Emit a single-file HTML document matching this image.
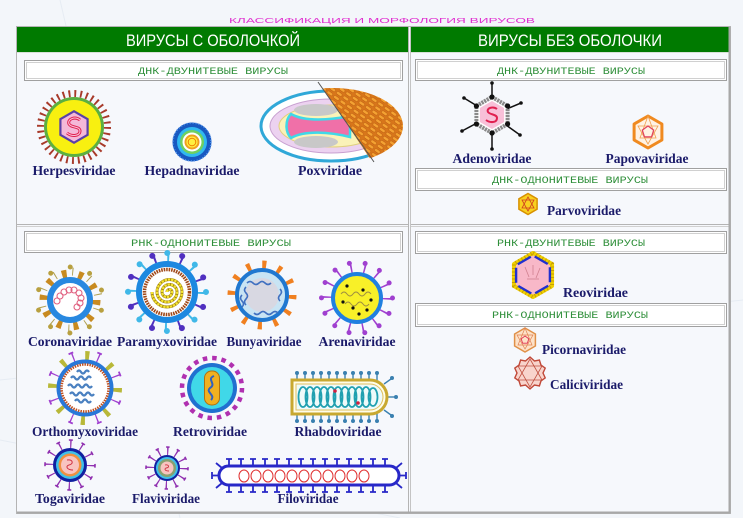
<!DOCTYPE html>
<html><head><meta charset="utf-8"><style>
html,body{margin:0;padding:0;background:#f3f6fa;}
svg{display:block;}
.lbl{font-family:"Liberation Serif",serif;font-weight:bold;font-size:13.5px;fill:#1b1b6a;}
.sub{font-family:"Liberation Mono",monospace;font-size:10.5px;fill:#2f8f3a;}
.hdr{font-family:"Liberation Sans",sans-serif;font-size:16.5px;fill:#ffffff;}
</style></head><body>
<svg width="743" height="518" viewBox="0 0 743 518" xmlns="http://www.w3.org/2000/svg">
<defs>
<pattern id="orp" width="8" height="5" patternUnits="userSpaceOnUse" patternTransform="rotate(35)">
<rect width="8" height="5" fill="#d8761a"/>
<rect x="0.5" y="0.8" width="6.5" height="3" rx="1.5" fill="#f4a232" stroke="#b85a10" stroke-width="0.5"/>
</pattern>
<clipPath id="poxc"><polygon points="316,78 412,78 412,172 379,172"/></clipPath>
</defs>
<rect width="743" height="518" fill="#f3f6fa"/>
<g stroke="#e6ecf3" stroke-width="1" fill="none">
<line x1="0" y1="380" x2="743" y2="300"/>
<line x1="0" y1="440" x2="400" y2="518"/>
<line x1="60" y1="0" x2="180" y2="518"/>
</g>
<!-- table -->
<rect x="16.5" y="26.5" width="714" height="487" fill="#f6f8fc" stroke="#b4b4b4"/>
<rect x="17" y="27" width="391" height="25" fill="#007a00"/>
<rect x="411" y="27" width="318" height="25" fill="#007a00"/>
<line x1="17" y1="52.5" x2="408" y2="52.5" stroke="#d8e0d8"/>
<line x1="411" y1="52.5" x2="729" y2="52.5" stroke="#d8e0d8"/>
<line x1="408.5" y1="27" x2="408.5" y2="513" stroke="#b4b4b4"/>
<line x1="410.5" y1="27" x2="410.5" y2="513" stroke="#c4c4c4"/>
<line x1="17" y1="224.5" x2="408" y2="224.5" stroke="#b4b4b4"/>
<line x1="17" y1="226.5" x2="408" y2="226.5" stroke="#d0d0d0"/>
<line x1="411" y1="224.5" x2="729" y2="224.5" stroke="#b4b4b4"/>
<line x1="411" y1="226.5" x2="729" y2="226.5" stroke="#d0d0d0"/>
<line x1="729.5" y1="27" x2="729.5" y2="513" stroke="#a8a8a8" stroke-width="2"/>
<line x1="17" y1="512.5" x2="730" y2="512.5" stroke="#a8a8a8" stroke-width="2"/>

<text x="382" y="23" font-family="Liberation Sans,sans-serif" font-size="7.5" fill="#e030d0" text-anchor="middle" textLength="306" lengthAdjust="spacingAndGlyphs">КЛАССИФИКАЦИЯ  И  МОРФОЛОГИЯ  ВИРУСОВ</text>
<text class="hdr" x="213" y="46" text-anchor="middle" textLength="174" lengthAdjust="spacingAndGlyphs">ВИРУСЫ С ОБОЛОЧКОЙ</text>
<text class="hdr" x="570" y="46" text-anchor="middle" textLength="184" lengthAdjust="spacingAndGlyphs">ВИРУСЫ  БЕЗ ОБОЛОЧКИ</text>

<!-- subheader boxes -->
<g fill="#ffffff" stroke="#a0a0a0">
<rect x="24.5" y="60.5" width="378" height="20"/>
<rect x="415.5" y="59.5" width="311" height="21"/>
<rect x="415.5" y="168.5" width="311" height="22"/>
<rect x="24.5" y="231.5" width="378" height="21"/>
<rect x="415.5" y="231.5" width="311" height="22"/>
<rect x="415.5" y="303.5" width="311" height="23"/>
</g>
<g fill="none" stroke="#d0d0d0">
<rect x="26.5" y="62.5" width="374" height="16"/>
<rect x="417.5" y="61.5" width="307" height="17"/>
<rect x="417.5" y="170.5" width="307" height="18"/>
<rect x="26.5" y="233.5" width="374" height="17"/>
<rect x="417.5" y="233.5" width="307" height="18"/>
<rect x="417.5" y="305.5" width="307" height="19"/>
</g>
<text class="sub" x="213" y="74" text-anchor="middle" textLength="150" lengthAdjust="spacingAndGlyphs">ДНК-ДВУНИТЕВЫЕ ВИРУСЫ</text>
<text class="sub" x="571" y="74" text-anchor="middle" textLength="148" lengthAdjust="spacingAndGlyphs">ДНК-ДВУНИТЕВЫЕ ВИРУСЫ</text>
<text class="sub" x="570" y="183" text-anchor="middle" textLength="156" lengthAdjust="spacingAndGlyphs">ДНК-ОДНОНИТЕВЫЕ ВИРУСЫ</text>
<text class="sub" x="211" y="246" text-anchor="middle" textLength="160" lengthAdjust="spacingAndGlyphs">РНК-ОДНОНИТЕВЫЕ ВИРУСЫ</text>
<text class="sub" x="571" y="246" text-anchor="middle" textLength="148" lengthAdjust="spacingAndGlyphs">РНК-ДВУНИТЕВЫЕ ВИРУСЫ</text>
<text class="sub" x="570" y="318" text-anchor="middle" textLength="156" lengthAdjust="spacingAndGlyphs">РНК-ОДНОНИТЕВЫЕ ВИРУСЫ</text>

<!-- Herpes -->
<g transform="translate(74,127)">
<circle r="33.5" fill="none" stroke="#a83a2a" stroke-width="7" stroke-dasharray="1.9 3.95"/>
<circle r="30" fill="#5cb040"/>
<circle r="27" fill="#f8f010"/>
<polygon points="0,-17 14.7,-8.5 14.7,8.5 0,17 -14.7,8.5 -14.7,-8.5" fill="#5a40a8"/>
<polygon points="0,-14.5 12.5,-7.2 12.5,7.2 0,14.5 -12.5,7.2 -12.5,-7.2" fill="#f4b8d8"/>
<path d="M6,-7 C1,-11 -7,-8 -5,-3 C-3,1 6,-1 6,4 C6,9 -2,10 -7,6" fill="none" stroke="#e02050" stroke-width="3"/>
<path d="M6,-7 C1,-11 -7,-8 -5,-3 C-3,1 6,-1 6,4 C6,9 -2,10 -7,6" fill="none" stroke="#f8c0d8" stroke-width="1"/>
</g>
<!-- Hepadna -->
<g transform="translate(192,142)">
<circle r="19.5" fill="#1858c0"/>
<circle r="19" fill="none" stroke="#5a9af0" stroke-width="1.5" stroke-dasharray="1 2"/>
<circle r="15" fill="#30b8f0"/>
<circle r="12" fill="#70d060"/>
<circle r="9.5" fill="#ffffff"/>
<circle r="7.5" fill="#f0a020"/>
<circle r="5.5" fill="#fff040"/>
<circle r="3.8" fill="none" stroke="#f08000"/>
</g>
<!-- Pox -->
<g>
<ellipse cx="331" cy="126" rx="70" ry="35" fill="#ffffff" stroke="#30a8d8" stroke-width="3"/>
<ellipse cx="331" cy="126" rx="61" ry="27" fill="#ecd2f0" stroke="#c8a0d0"/>
<ellipse cx="331" cy="126" rx="52" ry="21" fill="#faf2b8" stroke="#e0d080"/>
<ellipse cx="316" cy="110" rx="22" ry="6" fill="#c8c8c8"/>
<ellipse cx="316" cy="142" rx="22" ry="6" fill="#c8c8c8"/>
<path d="M291,114 C305,122 330,120 350,116 L350,137 C330,132 305,130 291,138 C285,132 285,120 291,114 Z" fill="#f070a8" stroke="#40d8e8" stroke-width="2.5"/>
<ellipse cx="333" cy="126" rx="70" ry="38" fill="url(#orp)" clip-path="url(#poxc)"/>
<line x1="318" y1="82" x2="374" y2="162" stroke="#555" stroke-width="1"/>
</g>

<!-- Adeno -->
<g transform="translate(492,115)">
<g stroke="#111" stroke-width="1.5">
<line x1="0" y1="0" x2="0" y2="-32"/><line x1="0" y1="0" x2="0" y2="34"/>
<line x1="0" y1="0" x2="-28" y2="-17"/><line x1="0" y1="0" x2="29" y2="-12"/>
<line x1="0" y1="0" x2="-30" y2="16"/><line x1="0" y1="0" x2="28" y2="20"/>
</g>
<g fill="#111"><circle cx="0" cy="-32" r="1.8"/><circle cx="0" cy="34" r="1.8"/><circle cx="-28" cy="-17" r="1.8"/><circle cx="29" cy="-12" r="1.8"/><circle cx="-30" cy="16" r="1.8"/><circle cx="28" cy="20" r="1.8"/></g>
<polygon points="0,-18 15.6,-9 15.6,9 0,18 -15.6,9 -15.6,-9" fill="#ffffff" stroke="#8a8a8a" stroke-width="4" stroke-dasharray="2.2 0.8"/>
<polygon points="0,-14 12.1,-7 12.1,7 0,14 -12.1,7 -12.1,-7" fill="#f8c0d8"/>
<path d="M5,-6 C1,-9 -6,-7 -4,-3 C-2,0 5,-1 5,3 C5,8 -2,8 -6,5" fill="none" stroke="#e02050" stroke-width="2"/>
<g fill="#111"><circle cx="0" cy="-18" r="2.6"/><circle cx="0" cy="18" r="2.6"/><circle cx="-15.6" cy="-9" r="2.6"/><circle cx="15.6" cy="-9" r="2.6"/><circle cx="-15.6" cy="9" r="2.6"/><circle cx="15.6" cy="9" r="2.6"/></g>
</g>
<!-- Papova -->
<g transform="translate(648,132)">
<polygon points="0,-16 13.9,-8 13.9,8 0,16 -13.9,8 -13.9,-8" fill="#fff2e4" stroke="#f08a20" stroke-width="3" stroke-linejoin="round"/>
<g stroke="#f0a050" stroke-width="0.8" fill="none"><polygon points="0,-16 8,6 -8,6"/><polygon points="0,12 -10,-6 10,-6"/></g>
<polygon points="0,-6 5.7,-1.9 3.5,4.9 -3.5,4.9 -5.7,-1.9" fill="none" stroke="#e04060" stroke-width="1.2"/>
</g>
<!-- Parvo -->
<g transform="translate(528,204)">
<polygon points="0,-10.5 9.1,-5.2 9.1,5.2 0,10.5 -9.1,5.2 -9.1,-5.2" fill="#f8d020" stroke="#d89000" stroke-width="1.5"/>
<g stroke="#d04020" stroke-width="0.8" fill="none"><polygon points="0,-7 6,4 -6,4"/><polygon points="0,7 -6,-4 6,-4"/></g>
</g>

<!-- Corona -->
<g transform="translate(70,300)">
<g transform="rotate(18)">
<circle r="28.5" fill="none" stroke="#b0a050" stroke-width="8" stroke-dasharray="1 17.2"/>
<circle r="33" fill="none" stroke="#b8a040" stroke-width="5" stroke-linecap="round" stroke-dasharray="0.01 20.72"/>
</g>
<circle r="25" fill="none" stroke="#c88a20" stroke-width="11" stroke-dasharray="4.5 11.21"/>
<circle r="20" fill="#ffffff" stroke="#2888e0" stroke-width="6"/>
<g fill="none" stroke="#e06080" stroke-width="1.1">
<circle cx="-10" cy="-4" r="3"/><circle cx="-6" cy="-8" r="3"/><circle cx="-1" cy="-10" r="3"/><circle cx="4" cy="-10" r="3"/><circle cx="9" cy="-7" r="3"/><circle cx="11" cy="-2" r="3"/><circle cx="10" cy="3" r="3"/><circle cx="7" cy="7" r="3"/><circle cx="-13" cy="1" r="3"/>
</g>
</g>
<!-- Paramyxo -->
<g transform="translate(167,292)">
<circle r="34.5" fill="none" stroke="#40b8e8" stroke-width="8" stroke-dasharray="2 25.1"/>
<circle r="39" fill="none" stroke="#40b8e8" stroke-width="6" stroke-linecap="round" stroke-dasharray="0.01 30.62"/>
<g transform="rotate(22.5)">
<circle r="34.5" fill="none" stroke="#5030c0" stroke-width="8" stroke-dasharray="2 25.1"/>
<circle r="39" fill="none" stroke="#5030c0" stroke-width="6" stroke-linecap="round" stroke-dasharray="0.01 30.62"/>
</g>
<circle r="28" fill="#ffffff" stroke="#1c88e0" stroke-width="6"/>
<circle r="22.5" fill="none" stroke="#a04818" stroke-width="3.5" stroke-dasharray="1.6 0.9"/>
<path d="M0,0 A2.5,2.5 0 0 1 5,0 A5,5 0 0 1 -5,0 A7.5,7.5 0 0 1 10,0 A10,10 0 0 1 -10,0 A12.5,12.5 0 0 1 15,0 A15,15 0 0 1 -15,0" fill="none" stroke="#a08010" stroke-width="3"/>
<path d="M0,0 A2.5,2.5 0 0 1 5,0 A5,5 0 0 1 -5,0 A7.5,7.5 0 0 1 10,0 A10,10 0 0 1 -10,0 A12.5,12.5 0 0 1 15,0 A15,15 0 0 1 -15,0" fill="none" stroke="#f4e430" stroke-width="2.2" stroke-dasharray="2.4 0.9"/>
</g>
<!-- Bunya -->
<g transform="translate(262,295)">
<circle r="30" fill="none" stroke="#f08020" stroke-width="9" stroke-dasharray="4 11.71"/>
<circle r="25" fill="#c8e4f4" stroke="#2078d0" stroke-width="4"/>
<circle r="17" fill="#d8d8e2"/>
<path d="M-15,-12 q3,-3 6,0 t6,0 t6,0 t6,0" fill="none" stroke="#4070c0" stroke-width="1.6"/>
<path d="M-20,0 q-3,3 0,6 t0,6" fill="none" stroke="#4070c0" stroke-width="1.6"/>
<path d="M-16,-8 q-3,3 0,6 t0,6 t0,6" fill="none" stroke="#4070c0" stroke-width="1.6"/>
<path d="M-8,18 q3,3 6,0 t6,0 t6,0 t6,0" fill="none" stroke="#4070c0" stroke-width="1.6"/>
<path d="M18,-6 q3,3 0,6 t0,6" fill="none" stroke="#4070c0" stroke-width="1.6"/>
</g>
<!-- Arena -->
<g transform="translate(357,298)">
<circle r="30" fill="none" stroke="#a040d0" stroke-width="10" stroke-dasharray="1.6 11.86"/>
<circle r="35.5" fill="none" stroke="#a040d0" stroke-width="5" stroke-linecap="round" stroke-dasharray="0.01 15.92"/>
<circle r="24" fill="#f8f028" stroke="#2080e0" stroke-width="4"/>
<path d="M-16,-4 q3,-4 6,0 t6,0 t6,0 t6,0 t6,0" fill="none" stroke="#a09040" stroke-width="1"/>
<path d="M-12,6 q3,-4 6,0 t6,0 t6,0 t6,0" fill="none" stroke="#a09040" stroke-width="1"/>
<g fill="#111"><circle cx="-10" cy="-12" r="1.6"/><circle cx="6" cy="-8" r="1.6"/><circle cx="-4" cy="10" r="1.6"/><circle cx="10" cy="12" r="1.6"/><circle cx="14" cy="2" r="1.6"/><circle cx="-14" cy="4" r="1.6"/><circle cx="2" cy="16" r="1.6"/></g>
</g>

<!-- Orthomyxo -->
<g transform="translate(85,388)">
<circle r="32" fill="none" stroke="#b8b838" stroke-width="10" stroke-dasharray="4 21.13"/>
<g transform="rotate(22.5)">
<circle r="32" fill="none" stroke="#a040d0" stroke-width="10" stroke-dasharray="1.3 23.83"/>
<circle r="37.5" fill="none" stroke="#a040d0" stroke-width="1.8" stroke-dasharray="5 24.45" stroke-dashoffset="2.5"/>
</g>
<circle r="26.5" fill="#ffffff" stroke="#2878d8" stroke-width="4"/>
<circle r="23.5" fill="none" stroke="#c05020" stroke-width="2.5" stroke-dasharray="1.5 1"/>
<g fill="none" stroke="#4a80c0" stroke-width="2.2">
<path d="M-14,-10 q2,-3 4,0 t4,0 t4,0 t4,0 t4,0"/>
<path d="M-17,-2 q2,-3 4,0 t4,0 t4,0 t4,0 t4,0 t4,0"/>
<path d="M-15,6 q2,-3 4,0 t4,0 t4,0 t4,0 t4,0 t4,0"/>
<path d="M-10,13 q2,-3 4,0 t4,0 t4,0 t4,0"/>
<path d="M-8,-16 q2,-3 4,0 t4,0 t4,0"/>
</g>
</g>
<!-- Retro -->
<g transform="translate(212,388)">
<circle r="30" fill="none" stroke="#b030b0" stroke-width="4.5" stroke-dasharray="4.5 4.92"/>
<circle r="25" fill="#2070d0"/>
<circle r="21" fill="#40d8e8"/>
<rect x="-7.5" y="-17" width="15" height="34" rx="7" fill="#f0b020" stroke="#b07010" stroke-width="1"/>
<path d="M2,-12 C-6,-9 5,-4 -2,0 C-7,4 4,7 -1,12" fill="none" stroke="#3060c0" stroke-width="2"/>
</g>
<!-- Rhabdo -->
<g>
<g stroke="#3a80b0" stroke-width="1.4">
<line x1="297" y1="374" x2="297" y2="380"/><line x1="305" y1="374" x2="305" y2="380"/><line x1="313" y1="374" x2="313" y2="380"/><line x1="321" y1="374" x2="321" y2="380"/><line x1="329" y1="374" x2="329" y2="380"/><line x1="337" y1="374" x2="337" y2="380"/><line x1="345" y1="374" x2="345" y2="380"/><line x1="353" y1="374" x2="353" y2="380"/><line x1="361" y1="374" x2="361" y2="380"/><line x1="369" y1="374" x2="369" y2="380"/><line x1="377" y1="374" x2="377" y2="381"/>
<line x1="297" y1="414" x2="297" y2="420"/><line x1="305" y1="414" x2="305" y2="420"/><line x1="313" y1="414" x2="313" y2="420"/><line x1="321" y1="414" x2="321" y2="420"/><line x1="329" y1="414" x2="329" y2="420"/><line x1="337" y1="414" x2="337" y2="420"/><line x1="345" y1="414" x2="345" y2="420"/><line x1="353" y1="414" x2="353" y2="420"/><line x1="361" y1="414" x2="361" y2="420"/><line x1="369" y1="414" x2="369" y2="420"/><line x1="377" y1="413" x2="377" y2="420"/>
<line x1="384" y1="384" x2="391" y2="379"/><line x1="388" y1="397" x2="395" y2="397"/><line x1="384" y1="410" x2="391" y2="415"/>
</g>
<g fill="#3a80b0"><circle cx="297" cy="373" r="2"/><circle cx="305" cy="373" r="2"/><circle cx="313" cy="373" r="2"/><circle cx="321" cy="373" r="2"/><circle cx="329" cy="373" r="2"/><circle cx="337" cy="373" r="2"/><circle cx="345" cy="373" r="2"/><circle cx="353" cy="373" r="2"/><circle cx="361" cy="373" r="2"/><circle cx="369" cy="373" r="2"/><circle cx="377" cy="373" r="2"/>
<circle cx="297" cy="421" r="2"/><circle cx="305" cy="421" r="2"/><circle cx="313" cy="421" r="2"/><circle cx="321" cy="421" r="2"/><circle cx="329" cy="421" r="2"/><circle cx="337" cy="421" r="2"/><circle cx="345" cy="421" r="2"/><circle cx="353" cy="421" r="2"/><circle cx="361" cy="421" r="2"/><circle cx="369" cy="421" r="2"/><circle cx="377" cy="421" r="2"/>
<circle cx="392" cy="378" r="2"/><circle cx="396" cy="397" r="2"/><circle cx="392" cy="416" r="2"/></g>
<path d="M292,380 H370 A17,17 0 0 1 370,414 H292 Z" fill="#fffde8" stroke="#c8a830" stroke-width="3"/>
<path d="M296,384 H370 A13,13 0 0 1 370,410 H296 Z" fill="#eefafa" stroke="#e0c060" stroke-width="1"/>
<g fill="none" stroke="#20a0b0" stroke-width="1.8">
<ellipse cx="303" cy="397" rx="4.5" ry="10"/><ellipse cx="310" cy="397" rx="4.5" ry="10"/><ellipse cx="317" cy="397" rx="4.5" ry="10"/><ellipse cx="324" cy="397" rx="4.5" ry="10"/><ellipse cx="331" cy="397" rx="4.5" ry="10"/><ellipse cx="338" cy="397" rx="4.5" ry="10"/><ellipse cx="345" cy="397" rx="4.5" ry="10"/><ellipse cx="352" cy="397" rx="4.5" ry="10"/><ellipse cx="359" cy="397" rx="4.5" ry="10"/><ellipse cx="366" cy="397" rx="4.5" ry="10"/><ellipse cx="373" cy="397" rx="4.5" ry="9"/>
</g>
<circle cx="335" cy="391" r="1.8" fill="#d02040"/><circle cx="358" cy="403" r="1.8" fill="#d02040"/>
</g>
<!-- Toga -->
<g transform="translate(70,465)">
<circle r="21" fill="none" stroke="#9030b0" stroke-width="8" stroke-dasharray="1.3 9.7"/>
<circle r="25" fill="none" stroke="#9030b0" stroke-width="1.6" stroke-dasharray="4 9.09" stroke-dashoffset="1.35"/>
<circle r="17" fill="#1020a0"/>
<circle r="14" fill="#40c0e8"/>
<circle r="11.5" fill="#f09040"/>
<circle r="9" fill="#f8c4c0"/>
<path d="M-3,-5 C3,-6 4,-1 -1,0 C-5,1 -3,5 3,5" fill="none" stroke="#d03040" stroke-width="1"/>
</g>
<!-- Flavi -->
<g transform="translate(167,468)">
<circle r="17" fill="none" stroke="#9030b0" stroke-width="8" stroke-dasharray="1.3 7.6"/>
<circle r="21" fill="none" stroke="#9030b0" stroke-width="1.6" stroke-dasharray="3.5 7.5" stroke-dashoffset="1.1"/>
<circle r="13" fill="#1020a0"/>
<circle r="11" fill="#40c0e8"/>
<circle r="9" fill="#8aa070"/>
<circle r="6.5" fill="#f8c4c0"/>
<path d="M-2,-3 C2,-4 3,0 -1,0 C-3,1 -2,3 2,3" fill="none" stroke="#d03040" stroke-width="0.9"/>
</g>
<!-- Filo -->
<g>
<g stroke="#2828c8" stroke-width="1.8">
<path d="M229,466 V459 M226,459 H232 M241,466 V459 M238,459 H244 M253,466 V459 M250,459 H256 M265,466 V459 M262,459 H268 M277,466 V459 M274,459 H280 M289,466 V459 M286,459 H292 M301,466 V459 M298,459 H304 M313,466 V459 M310,459 H316 M325,466 V459 M322,459 H328 M337,466 V459 M334,459 H340 M349,466 V459 M346,459 H352 M361,466 V459 M358,459 H364 M373,466 V459 M370,459 H376 M385,466 V459 M382,459 H388"/>
<path d="M229,485 V492 M226,492 H232 M241,485 V492 M238,492 H244 M253,485 V492 M250,492 H256 M265,485 V492 M262,492 H268 M277,485 V492 M274,492 H280 M289,485 V492 M286,492 H292 M301,485 V492 M298,492 H304 M313,485 V492 M310,492 H316 M325,485 V492 M322,492 H328 M337,485 V492 M334,492 H340 M349,485 V492 M346,492 H352 M361,485 V492 M358,492 H364 M373,485 V492 M370,492 H376 M385,485 V492 M382,492 H388"/>
<path d="M219,475.5 H212 M212,472 V479 M222,468 L216,463 M222,483 L216,488 M399,475.5 H406 M406,472 V479 M396,468 L402,463 M396,483 L402,488"/>
</g>
<rect x="219" y="466" width="180" height="19" rx="9.5" fill="#ffffff" stroke="#2828c8" stroke-width="3"/>
<g fill="none" stroke="#e03030" stroke-width="1">
<ellipse cx="244" cy="476" rx="5" ry="6"/><ellipse cx="256" cy="476" rx="5" ry="6"/><ellipse cx="268" cy="476" rx="5" ry="6"/><ellipse cx="280" cy="476" rx="5" ry="6"/><ellipse cx="292" cy="476" rx="5" ry="6"/><ellipse cx="304" cy="476" rx="5" ry="6"/><ellipse cx="316" cy="476" rx="5" ry="6"/><ellipse cx="328" cy="476" rx="5" ry="6"/><ellipse cx="340" cy="476" rx="5" ry="6"/><ellipse cx="352" cy="476" rx="5" ry="6"/><ellipse cx="364" cy="476" rx="5" ry="6"/>
</g>
</g>

<!-- Reo -->
<g transform="translate(533,275)">
<polygon points="0,-22 19.05,-11 19.05,11 0,22 -19.05,11 -19.05,-11" fill="#f8b8c8" stroke="#f0d000" stroke-width="4" stroke-linejoin="round"/>
<polygon points="0,-22 19.05,-11 19.05,11 0,22 -19.05,11 -19.05,-11" fill="none" stroke="#c8a000" stroke-width="4" stroke-dasharray="1 2.5"/>
<polygon points="0,-19.5 16.9,-9.75 16.9,9.75 0,19.5 -16.9,9.75 -16.9,-9.75" fill="none" stroke="#2030d0" stroke-width="2.4" stroke-dasharray="15 4.5" stroke-dashoffset="-2"/>
<g stroke="#d08090" stroke-width="0.8"><line x1="-8" y1="-8" x2="-4" y2="2"/><line x1="0" y1="-10" x2="0" y2="0"/><line x1="7" y1="-7" x2="3" y2="3"/><line x1="-6" y1="4" x2="6" y2="4"/></g>
</g>
<!-- Picorna -->
<g transform="translate(525,340)">
<polygon points="0,-12 10.4,-6 10.4,6 0,12 -10.4,6 -10.4,-6" fill="#fde2c8" stroke="#e09048" stroke-width="1.5"/>
<g stroke="#e08050" stroke-width="0.7" fill="none"><polygon points="0,-12 7,5 -7,5"/><polygon points="0,9 -8,-5 8,-5"/></g>
<polygon points="0,-4 3.8,-1.2 2.4,3.2 -2.4,3.2 -3.8,-1.2" fill="none" stroke="#e03050" stroke-width="0.9"/>
</g>
<!-- Calici -->
<g transform="translate(530,373)">
<polygon points="0,-16 4.5,-12 9.4,-12.9 11,-7.9 15.2,-4.9 13,0 15.2,4.9 11,7.9 9.4,12.9 4.5,12 0,16 -4.5,12 -9.4,12.9 -11,7.9 -15.2,4.9 -13,0 -15.2,-4.9 -11,-7.9 -9.4,-12.9 -4.5,-12" fill="#f8d4cc" stroke="#c04838" stroke-width="1.4"/>
<g stroke="#c05040" stroke-width="0.8" fill="none"><polygon points="0,-14 12,7 -12,7"/><polygon points="0,14 -12,-7 12,-7"/></g>
</g>

<!-- labels -->
<text class="lbl" x="74" y="175" text-anchor="middle" textLength="83" lengthAdjust="spacingAndGlyphs">Herpesviridae</text>
<text class="lbl" x="192" y="175" text-anchor="middle" textLength="95" lengthAdjust="spacingAndGlyphs">Hepadnaviridae</text>
<text class="lbl" x="330" y="175" text-anchor="middle" textLength="64" lengthAdjust="spacingAndGlyphs">Poxviridae</text>
<text class="lbl" x="492" y="163" text-anchor="middle" textLength="79" lengthAdjust="spacingAndGlyphs">Adenoviridae</text>
<text class="lbl" x="647" y="163" text-anchor="middle" textLength="83" lengthAdjust="spacingAndGlyphs">Papovaviridae</text>
<text class="lbl" x="547" y="215" textLength="74" lengthAdjust="spacingAndGlyphs">Parvoviridae</text>
<text class="lbl" x="70" y="346" text-anchor="middle" textLength="84" lengthAdjust="spacingAndGlyphs">Coronaviridae</text>
<text class="lbl" x="167" y="346" text-anchor="middle" textLength="100" lengthAdjust="spacingAndGlyphs">Paramyxoviridae</text>
<text class="lbl" x="264" y="346" text-anchor="middle" textLength="75" lengthAdjust="spacingAndGlyphs">Bunyaviridae</text>
<text class="lbl" x="357" y="346" text-anchor="middle" textLength="77" lengthAdjust="spacingAndGlyphs">Arenaviridae</text>
<text class="lbl" x="85" y="436" text-anchor="middle" textLength="106" lengthAdjust="spacingAndGlyphs">Orthomyxoviridae</text>
<text class="lbl" x="210" y="436" text-anchor="middle" textLength="74" lengthAdjust="spacingAndGlyphs">Retroviridae</text>
<text class="lbl" x="338" y="436" text-anchor="middle" textLength="87" lengthAdjust="spacingAndGlyphs">Rhabdoviridae</text>
<text class="lbl" x="70" y="503" text-anchor="middle" textLength="70" lengthAdjust="spacingAndGlyphs">Togaviridae</text>
<text class="lbl" x="166" y="503" text-anchor="middle" textLength="68" lengthAdjust="spacingAndGlyphs">Flaviviridae</text>
<text class="lbl" x="308" y="503" text-anchor="middle" textLength="61" lengthAdjust="spacingAndGlyphs">Filoviridae</text>
<text class="lbl" x="563" y="297" textLength="65" lengthAdjust="spacingAndGlyphs">Reoviridae</text>
<text class="lbl" x="542" y="354" textLength="84" lengthAdjust="spacingAndGlyphs">Picornaviridae</text>
<text class="lbl" x="550" y="389" textLength="73" lengthAdjust="spacingAndGlyphs">Caliciviridae</text>
</svg>
</body></html>
